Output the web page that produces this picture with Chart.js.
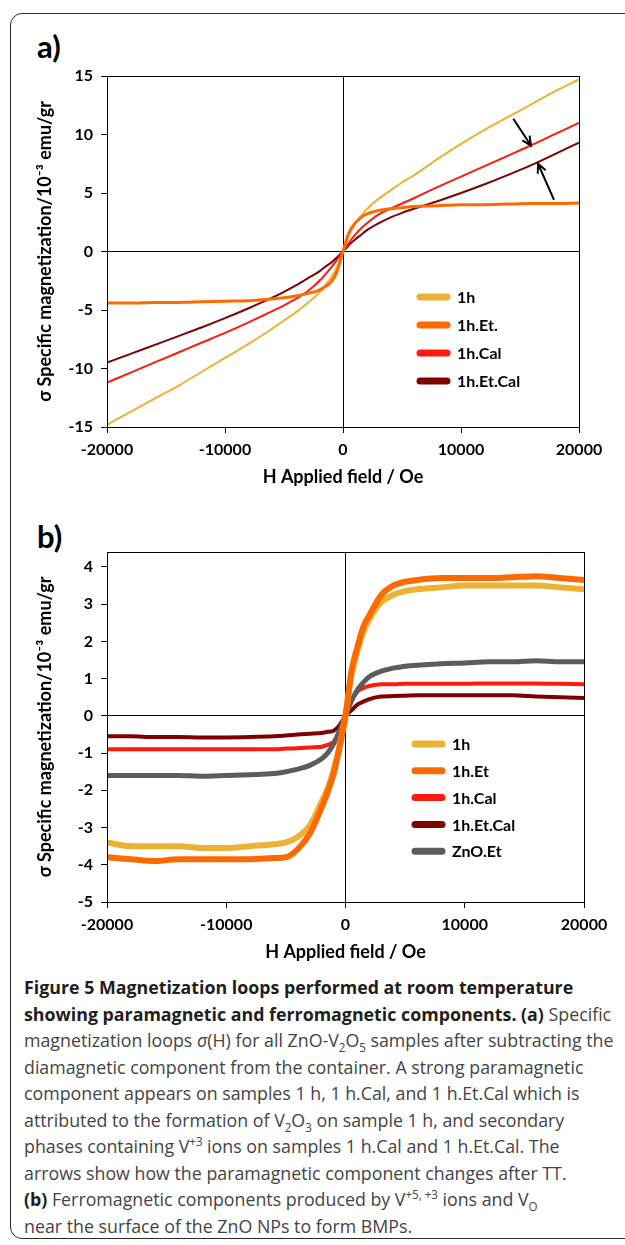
<!DOCTYPE html>
<html>
<head>
<meta charset="utf-8">
<script src="https://cdn.jsdelivr.net/npm/chart.js@4.4.0/dist/chart.umd.min.js"></script>
<style>
body{margin:0;background:#fff;width:625px;height:1245px;overflow:hidden;position:relative;font-family:Lato,sans-serif}
#frame{position:absolute;left:10px;top:13px;width:700px;height:1224px;border:1.5px solid #2b2b2b;border-radius:12px}
.panel{position:absolute;left:37px;font-weight:bold;font-size:31px;line-height:34px;color:#000}
canvas{position:absolute;left:0}
#caption{position:absolute;left:24px;top:974px;font-family:"Open Sans";font-size:18px;color:#444}
#caption div{white-space:nowrap;height:26.5px;line-height:26.5px;transform-origin:left center}
#caption b{color:#1e1e1e}
#caption sub,#caption sup{font-size:0.65em;line-height:0}
</style>
</head>
<body>
<div id="frame"></div>
<div class="panel" style="top:29px">a)</div>
<div class="panel" style="top:519px">b)</div>
<canvas id="chartA" width="625" height="500" style="top:0"></canvas>
<canvas id="chartB" width="625" height="470" style="top:500px"></canvas>
<div id="caption">
<div><b>Figure 5 Magnetization loops performed at room temperature</b></div>
<div><b>showing paramagnetic and ferromagnetic components. (a)</b> Specific</div>
<div>magnetization loops <i>σ</i>(H) for all ZnO-V<sub>2</sub>O<sub>5</sub> samples after subtracting the</div>
<div>diamagnetic component from the container. A strong paramagnetic</div>
<div>component appears on samples 1 h, 1 h.Cal, and 1 h.Et.Cal which is</div>
<div>attributed to the formation of V<sub>2</sub>O<sub>3</sub> on sample 1 h, and secondary</div>
<div>phases containing V<sup>+3</sup> ions on samples 1 h.Cal and 1 h.Et.Cal. The</div>
<div>arrows show how the paramagnetic component changes after TT.</div>
<div><b>(b)</b> Ferromagnetic components produced by V<sup>+5, +3</sup> ions and V<sub>O</sub></div>
<div>near the surface of the ZnO NPs to form BMPs.</div>
</div>
<script>
// applied field H (Oe), same sampling for every curve
const fieldOe = [-20000, -18000, -16000, -14000, -12000, -10000, -8000, -6000, -5000, -4000, -3000, -2000, -1500, -1000, -500,
                 0, 500, 1000, 1500, 2000, 3000, 4000, 5000, 6000, 8000, 10000, 12000, 14000, 16000, 18000, 20000];

// panel a) sigma (10^-3 emu/gr)
const labelsA = ['1h', '1h.Et.', '1h.Cal', '1h.Et.Cal'];
const a1h = [-14.8, -13.7, -12.6, -11.5, -10.3, -9.1, -7.9, -6.6, -5.9, -5.2, -4.4, -3.5, -2.9, -2.2, -1.3,
             0, 1.4, 2.3, 3.0, 3.6, 4.5, 5.2, 5.9, 6.5, 7.9, 9.2, 10.4, 11.5, 12.6, 13.7, 14.7];
const a1hEt = [-4.4, -4.4, -4.35, -4.35, -4.3, -4.25, -4.2, -4.05, -3.95, -3.8, -3.6, -3.3, -3.0, -2.6, -1.7,
               0, 1.6, 2.4, 2.9, 3.2, 3.5, 3.65, 3.75, 3.85, 3.9, 4.0, 4.0, 4.05, 4.1, 4.1, 4.15];
const a1hCal = [-11.2, -10.35, -9.5, -8.65, -7.8, -6.95, -6.05, -5.1, -4.6, -4.05, -3.4, -2.5, -1.95, -1.35, -0.7,
                0, 0.75, 1.4, 1.95, 2.4, 3.15, 3.65, 4.1, 4.55, 5.5, 6.4, 7.3, 8.2, 9.1, 10.05, 11.0];
const a1hEtCal = [-9.5, -8.75, -8.0, -7.25, -6.5, -5.7, -4.85, -3.95, -3.45, -2.9, -2.3, -1.7, -1.3, -0.95, -0.5,
                  0, 0.55, 1.0, 1.4, 1.8, 2.4, 2.9, 3.3, 3.65, 4.3, 5.0, 5.75, 6.55, 7.4, 8.35, 9.3];
// arrows in panel a): [H start, sigma start, H end, sigma end]
const arrowsA = [[14430, 11.34, 15930, 9.06], [17880, 4.42, 16530, 7.5]];

// panel b) sigma (10^-3 emu/gr)
const labelsB = ['1h', '1h.Et', '1h.Cal', '1h.Et.Cal', 'ZnO.Et'];
const b1h = [-3.4, -3.5, -3.5, -3.5, -3.55, -3.55, -3.5, -3.45, -3.4, -3.25, -2.95, -2.3, -1.95, -1.45, -0.8,
             0, 1.1, 1.75, 2.25, 2.6, 3.05, 3.25, 3.35, 3.4, 3.45, 3.5, 3.5, 3.5, 3.5, 3.45, 3.4];
const b1hEt = [-3.8, -3.85, -3.9, -3.85, -3.85, -3.85, -3.85, -3.82, -3.8, -3.58, -3.17, -2.46, -2.05, -1.56, -0.85,
               0, 1.2, 1.85, 2.4, 2.7, 3.25, 3.5, 3.6, 3.65, 3.7, 3.7, 3.7, 3.72, 3.75, 3.7, 3.65];
const b1hCal = [-0.9, -0.9, -0.9, -0.9, -0.9, -0.9, -0.9, -0.9, -0.88, -0.87, -0.85, -0.83, -0.78, -0.7, -0.45,
                0, 0.4, 0.65, 0.75, 0.8, 0.85, 0.85, 0.86, 0.86, 0.86, 0.86, 0.87, 0.87, 0.87, 0.86, 0.85];
const b1hEtCal = [-0.55, -0.55, -0.57, -0.57, -0.58, -0.58, -0.57, -0.55, -0.53, -0.5, -0.48, -0.46, -0.43, -0.4, -0.25,
                  0, 0.15, 0.3, 0.38, 0.45, 0.52, 0.53, 0.54, 0.55, 0.55, 0.55, 0.55, 0.55, 0.52, 0.5, 0.48];
const bZnOEt = [-1.6, -1.6, -1.6, -1.6, -1.62, -1.6, -1.58, -1.55, -1.5, -1.43, -1.33, -1.15, -1.0, -0.75, -0.4,
                0, 0.4, 0.7, 0.9, 1.05, 1.2, 1.28, 1.33, 1.36, 1.4, 1.42, 1.45, 1.45, 1.48, 1.45, 1.45];

const colYellow = '#EDB133', colOrange = '#FF6A00', colRed = '#FF1A0D', colDark = '#7F0000', colGrey = '#5C5C5C';

Chart.defaults.font.family = 'Lato';
Chart.defaults.color = '#000';

function toPoints(ys) {
    let pts = [];
    for (let i = 0; i < fieldOe.length; i++) {
        pts.push({x: fieldOe[i], y: ys[i]});
    }
    return pts;
}

function makeSet(label, ys, color, width, order) {
    return {
        label: label, data: toPoints(ys), borderColor: color, backgroundColor: color,
        borderWidth: width, pointRadius: 0, cubicInterpolationMode: 'monotone', order: order
    }
}

// legend drawn inside the plot, thick rounded swatches like the original
const insideLegend = {
    id: 'insideLegend',
    afterDatasetsDraw(chart, args, opts) {
        const ctx = chart.ctx, area = chart.chartArea;
        ctx.save();
        ctx.font = 'bold 16px Lato';
        ctx.textBaseline = 'middle';
        ctx.lineCap = 'round';
        ctx.lineWidth = 7;
        chart.data.datasets.forEach((ds, i) => {
            let x = area.left + opts.left;
            let y = area.top + opts.top + i * opts.gap;
            ctx.strokeStyle = ds.borderColor;
            ctx.beginPath();
            ctx.moveTo(x, y);
            ctx.lineTo(x + 27, y);
            ctx.stroke();
            ctx.fillStyle = '#000';
            ctx.fillText(ds.label, x + 37, y + 1);
        })
        ctx.restore();
    }
}

const arrows = {
    id: 'arrows',
    afterDatasetsDraw(chart, args, opts) {
        if (!opts.list) return;
        const xs = chart.scales.x, ys = chart.scales.y, ctx = chart.ctx;
        ctx.save();
        ctx.strokeStyle = '#000';
        ctx.lineWidth = 2;
        opts.list.forEach(a => {
            let x1 = xs.getPixelForValue(a[0]), y1 = ys.getPixelForValue(a[1]);
            let x2 = xs.getPixelForValue(a[2]), y2 = ys.getPixelForValue(a[3]);
            let ang = Math.atan2(y2 - y1, x2 - x1);
            ctx.beginPath();
            ctx.moveTo(x1, y1);
            ctx.lineTo(x2, y2);
            ctx.moveTo(x2 - 10 * Math.cos(ang - 0.45), y2 - 10 * Math.sin(ang - 0.45));
            ctx.lineTo(x2, y2);
            ctx.lineTo(x2 - 10 * Math.cos(ang + 0.45), y2 - 10 * Math.sin(ang + 0.45));
            ctx.stroke();
        })
        ctx.restore();
    }
}

// box round the plot area
const plotFrame = {
    id: 'plotFrame',
    afterDraw(chart) {
        const a = chart.chartArea, ctx = chart.ctx;
        ctx.save();
        ctx.strokeStyle = '#000';
        ctx.lineWidth = 1;
        ctx.strokeRect(a.left + 0.5, a.top + 0.5, a.right - a.left, a.bottom - a.top);
        ctx.restore();
    }
}

const zeroLine = c => (c.tick && c.tick.value === 0) ? '#000' : 'rgba(0,0,0,0)';
const tickFont = {family: 'Lato', weight: 'bold', size: 16};
const titleFont = {family: 'Lato', weight: 'bold', size: 18};

function axes(yMin, yMax, yStep) {
    return {
        x: {
            type: 'linear', min: -20000, max: 20000,
            ticks: {stepSize: 10000, font: tickFont, color: '#000', padding: 7, maxRotation: 0, callback: v => String(v)},
            grid: {color: zeroLine, tickColor: '#000', tickLength: 6},
            border: {color: '#000', width: 1},
            title: {display: true, text: 'H Applied field / Oe', font: titleFont, color: '#000', padding: 0},
            afterFit: s => { s.height = 61 }
        },
        y: {
            type: 'linear', min: yMin, max: yMax,
            ticks: {stepSize: yStep, font: tickFont, color: '#000', padding: 8, includeBounds: false, callback: v => String(v)},
            grid: {color: zeroLine, tickColor: '#000', tickLength: 6},
            border: {color: '#000', width: 1},
            title: {display: true, text: 'σ Specific magnetization/10⁻³ emu/gr', font: titleFont, color: '#000', padding: {top: 34, bottom: 0}},
            afterFit: s => { s.width = 107 }
        }
    }
}

function baseOptions(pad, yMin, yMax, yStep, legendPos, arrowList) {
    return {
        responsive: false, animation: false, devicePixelRatio: 1, events: [],
        layout: {padding: pad},
        scales: axes(yMin, yMax, yStep),
        plugins: {
            legend: {display: false}, tooltip: {enabled: false},
            insideLegend: legendPos,
            arrows: {list: arrowList}
        }
    }
}

new Chart(document.getElementById('chartA'), {
    type: 'line',
    data: {datasets: [
        makeSet(labelsA[0], a1h, colYellow, 2, 3),
        makeSet(labelsA[1], a1hEt, colOrange, 3, 0),
        makeSet(labelsA[2], a1hCal, colRed, 2, 1),
        makeSet(labelsA[3], a1hEtCal, colDark, 2, 2)
    ]},
    options: baseOptions({top: 76, right: 46, left: 0, bottom: 12}, -15, 15, 5, {left: 313, top: 221, gap: 28}, arrowsA),
    plugins: [insideLegend, arrows, plotFrame]
});

new Chart(document.getElementById('chartB'), {
    type: 'line',
    data: {datasets: [
        makeSet(labelsB[0], b1h, colYellow, 6, 1),
        makeSet(labelsB[1], b1hEt, colOrange, 6, 0),
        makeSet(labelsB[2], b1hCal, colRed, 4, 3),
        makeSet(labelsB[3], b1hEtCal, colDark, 4, 4),
        makeSet(labelsB[4], bZnOEt, colGrey, 5, 2)
    ]},
    options: baseOptions({top: 52, right: 41, left: 0, bottom: 7}, -5, 4.4, 1, {left: 308, top: 192, gap: 26.8}, null),
    plugins: [insideLegend, arrows, plotFrame]
});

// squeeze the caption lines to the width of the printed column
function fitCaption() {
    const lines = document.querySelectorAll('#caption div');
    let widest = 0;
    lines.forEach(l => { widest = Math.max(widest, l.scrollWidth) });
    const k = 589 / widest;
    lines.forEach(l => { l.style.transform = 'scaleX(' + k + ')' });
}
fitCaption();
</script>
</body>
</html>
